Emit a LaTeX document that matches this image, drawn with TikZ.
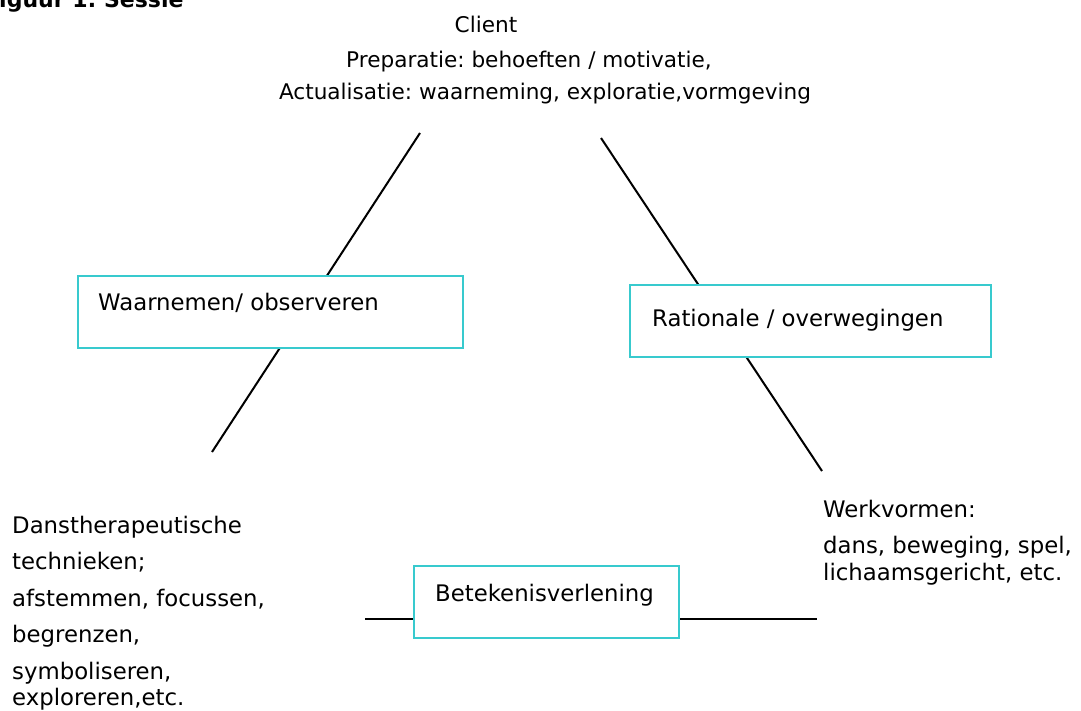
\documentclass[tikz,border=0pt]{standalone}
\usepackage{fontspec}
\setmainfont{DejaVu Sans}
\definecolor{boxcyan}{RGB}{56,202,206}
\begin{document}
\frenchspacing
\begin{tikzpicture}[x=1pt,y=-1pt,
  txt/.style={inner sep=0pt, font=\frenchspacing\fontsize{22.8}{36.5}\selectfont},
  toptxt/.style={inner sep=0pt, font=\frenchspacing\fontsize{21.6}{30}\selectfont},
  cbox/.style={draw=boxcyan, line width=2.3pt, fill=white, inner sep=0pt, anchor=north west},
  conn/.style={draw=black, line width=2pt}]
\useasboundingbox (0,0) rectangle (1081,711);
\clip (0,0) rectangle (1081,711);
% title (cut at the top edge)
\node[inner sep=0pt, anchor=base west, font=\frenchspacing\fontsize{22}{25}\selectfont\bfseries] (title) at (-16,7.5) {Figuur 1: Sessie};
% top text
\node[toptxt, anchor=base] (client) at (486,33) {Client};
\node[toptxt, anchor=base] (prep) at (529,68) {Preparatie: behoeften / motivatie,};
\begin{scope}
\clip (0,0) rectangle (1081,106.5);
\node[toptxt, anchor=base] (actual) at (545,100) {Actualisatie: waarneming, exploratie,vormgeving};
\end{scope}
% connector end points
\coordinate (ltop) at (420,133);
\coordinate (lbot) at (212,452);
\coordinate (rtop) at (601,138);
\coordinate (rbot) at (822,471);
\coordinate (hl) at (365,619);
\coordinate (hr) at (817,619);
\draw[conn] (ltop) -- (lbot);
\draw[conn] (rtop) -- (rbot);
\draw[conn] (hl) -- (hr);
% boxes
\node[cbox, minimum width=385, minimum height=72] (wbox) at (77,275) {};
\node[txt, anchor=base west] (wlbl) at (98,310) {Waarnemen/ observeren};
\node[cbox, minimum width=361, minimum height=72] (rbox) at (629,284) {};
\node[txt, anchor=base west] (rlbl) at (652,326) {Rationale / overwegingen};
\node[cbox, minimum width=265, minimum height=72] (bbox) at (413,565) {};
\node[txt, anchor=base west] (blbl) at (435,601) {Betekenisverlening};
% corner texts (base anchor = baseline of the last line)
\node[txt, anchor=base west, align=left] (tech) at (12,705) {Danstherapeutische\\technieken;\\afstemmen, focussen,\\begrenzen,\\symboliseren,\\[-10.5pt]exploreren,etc.};
\node[txt, anchor=base west, align=left] (werk) at (823,580) {Werkvormen:\\[-0.5pt]dans, beweging, spel,\\[-9.5pt]lichaamsgericht, etc.};
\end{tikzpicture}
\end{document}
